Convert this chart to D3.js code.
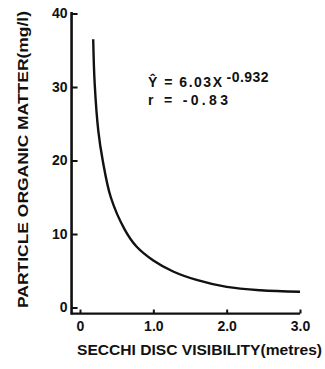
<!DOCTYPE html>
<html>
<head>
<meta charset="utf-8">
<script src="https://cdn.jsdelivr.net/npm/d3@7"></script>
<style>
  body { margin: 0; background: #fff; }
  text { font-family: "Liberation Sans", Arial, sans-serif; font-weight: bold; fill: #111; }
</style>
</head>
<body>
<div id="chart"></div>
<script>
// values
var visibility = [0.18, 0.20, 0.25, 0.31, 0.42, 0.61, 0.77, 1.0, 1.27, 1.59, 2.0, 2.46, 3.0]
var organic = [36.5, 30.5, 24.0, 20.0, 15.0, 10.6, 8.3, 6.4, 4.9, 3.75, 2.8, 2.35, 2.15]
var xTicks = [0, 1, 2, 3]
var xTickLabels = ["0", "1.0", "2.0", "3.0"]
var yTicks = [0, 10, 20, 30, 40]

var width = 325
    height = 369

var svg = d3.select("#chart")
  .append("svg")
    .attr("width", width)
    .attr("height", height)

var x = d3.scaleLinear().domain([0, 3]).range([80, 300])
var y = d3.scaleLinear().domain([0, 40]).range([307.5, 13.5])

// axis lines (they run a bit past zero on both axes)
svg.append("line")
  .attr("x1", x(-0.125)).attr("x2", x(3))
  .attr("y1", y(-0.82)).attr("y2", y(-0.82))
  .attr("stroke", "#111").attr("stroke-width", 2.2)
svg.append("line")
  .attr("x1", x(-0.115)).attr("x2", x(-0.115))
  .attr("y1", y(40) - 1.5).attr("y2", y(-0.82) + 1)
  .attr("stroke", "#111").attr("stroke-width", 2.6)

// y axis
var yAxis = svg.append("g")
  .attr("transform", "translate(" + x(-0.115) + ",0)")
  .call(d3.axisLeft(y).tickValues(yTicks).tickSizeInner(-6).tickSizeOuter(0).tickPadding(4))
yAxis.select(".domain").remove()
yAxis.selectAll(".tick line").attr("stroke", "#111").attr("stroke-width", 2)
yAxis.selectAll(".tick text")
  .style("font-size", "14px")
  .style("font-family", "'Liberation Sans', Arial, sans-serif")
  .style("font-weight", "bold")
  .attr("fill", "#111")

// x axis
var xAxis = svg.append("g")
  .attr("transform", "translate(0," + y(-0.82) + ")")
  .call(d3.axisBottom(x).tickValues(xTicks).tickFormat(function(d, i) { return xTickLabels[i] })
    .tickSizeInner(-4).tickSizeOuter(0).tickPadding(8))
xAxis.select(".domain").remove()
xAxis.selectAll(".tick line").attr("stroke", "#111").attr("stroke-width", 2)
xAxis.selectAll(".tick text")
  .style("font-size", "14px")
  .style("font-family", "'Liberation Sans', Arial, sans-serif")
  .style("font-weight", "bold")
  .attr("fill", "#111")

// the fitted curve
var points = visibility.map(function(v, i) { return [v, organic[i]] })
var line = d3.line()
  .x(function(d) { return x(d[0]) })
  .y(function(d) { return y(d[1]) })
  .curve(d3.curveCatmullRom.alpha(0.5))

svg.append("path")
  .datum(points)
  .attr("d", line)
  .attr("fill", "none")
  .attr("stroke", "#111")
  .attr("stroke-width", 2.4)

// axis titles
svg.append("text")
  .attr("x", 77).attr("y", 355)
  .attr("textLength", 245).attr("lengthAdjust", "spacingAndGlyphs")
  .style("font-size", "15px")
  .text("SECCHI  DISC  VISIBILITY(metres)")

svg.append("text")
  .attr("transform", "translate(28,308) rotate(-90)")
  .attr("textLength", 297).attr("lengthAdjust", "spacingAndGlyphs")
  .style("font-size", "15px")
  .text("PARTICLE  ORGANIC  MATTER(mg/l)")

// regression annotation
var eq = svg.append("text")
  .attr("x", 148).attr("y", 87)
  .style("font-size", "14px")
eq.append("tspan").attr("textLength", 74).text("Ŷ = 6.03X")
eq.append("tspan").attr("dy", -5).attr("dx", 3).attr("textLength", 42).text("-0.932")

svg.append("text")
  .attr("x", 148).attr("y", 105)
  .attr("textLength", 80)
  .style("font-size", "14px")
  .text("r  = -0.83")
</script>
</body>
</html>
